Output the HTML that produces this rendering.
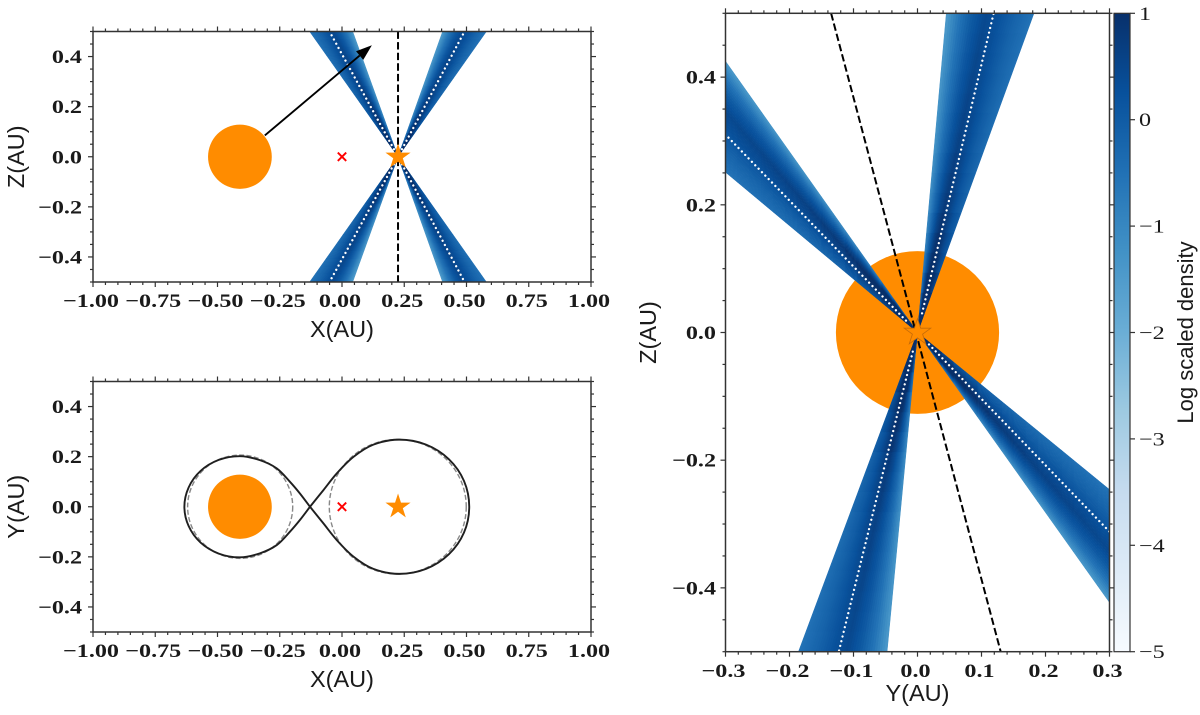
<!DOCTYPE html>
<html lang="en">
<head>
<meta charset="utf-8">
<title>Density cones around a binary orbit</title>
<style>
html,body{margin:0;padding:0;background:#fff;width:1200px;height:715px;overflow:hidden}
svg{display:block}
.tick-label{font-family:"Liberation Serif",serif;font-weight:bold;font-size:19px;fill:#1a1a1a}
.cbar-label{font-family:"Liberation Serif",serif;font-size:19px;fill:#1a1a1a}
.axis-title{font-family:"Liberation Sans",sans-serif;font-size:23.5px;fill:#1a1a1a}
</style>
</head>
<body>
<svg id="chart" xmlns="http://www.w3.org/2000/svg" width="1200" height="715" viewBox="0 0 1200 715">
  <defs>
    <clipPath id="clip-a"><rect x="93" y="31.5" width="498" height="250.5"/></clipPath>
    <clipPath id="clip-b"><rect x="93" y="381.5" width="498" height="250.5"/></clipPath>
    <clipPath id="clip-c"><rect x="725.5" y="13.3" width="384" height="638.4"/></clipPath>
    <linearGradient id="cbar-gradient" x1="0" y1="1" x2="0" y2="0"></linearGradient>
  </defs>
</svg>
<script>
// Colour ramp (Blues) and colour scale limits
const rampColors = ['#f7fbff','#deebf7','#c6dbef','#9ecae1','#6baed6','#4292c6','#2171b5','#08519c','#08306b'];
const colorbarTicks = [-5,-4,-3,-2,-1,0,1];
const colorbarMin = -5;
const colorbarMax = 1;

// Log density across a cone (0 = outer edge, 1 = light edge)
const profileU = [0,0.2,0.4,0.55,0.7,0.85,1];
const profileV = [-0.55,-0.2,0.25,0.45,0.05,-0.6,-1.45];
// Log density gain along a cone (0 = apex, 1 = plot edge)
const falloffS = [0,0.1,0.2,0.4,0.6,1];
const falloffV = [2.2,1.3,0.75,0.35,0.17,0];

// Panel A (X-Z) cones: edge positions on the plot border
const starX = 0.225;
const bodyX = -0.41;
const bodyRadius = 0.128;
const fanAZ = [0.5,0.5,-0.5,-0.5];
const fanAOuterX = [-0.13,0.58,-0.13,0.58];
const fanADottedX = [-0.05,0.492,-0.05,0.492];
const fanALightX = [0.043,0.404,0.043,0.404];
const arrowStart = [-0.31,0.085];
const arrowTip = [0.12,0.445];

// Panel B (X-Y) outline: upper half of each lobe
const leftLobeX = [-0.1285,-0.169,-0.209,-0.262,-0.33,-0.41,-0.495,-0.568,-0.616,-0.633];
const leftLobeY = [0,0.053,0.0996,0.153,0.186,0.202,0.187,0.143,0.077,0];
const rightLobeX = [-0.1285,-0.075,-0.021,0.046,0.126,0.23,0.3375,0.429,0.49,0.511];
const rightLobeY = [0,0.066,0.133,0.199,0.248,0.268,0.248,0.19,0.103,0];
const leftCircle = [-0.409,0.211];
const rightCircle = [0.224,0.275];

// Panel C (Y-Z) cones: edge positions on the plot border
const fanCOuter = [[-0.3,0.251],[0.182,0.5],[0.3,-0.246],[-0.186,-0.5]];
const fanCDotted = [[-0.3,0.31],[0.119,0.5],[0.3,-0.312],[-0.123,-0.5]];
const fanCLight = [[-0.3,0.425],[0.045,0.5],[0.3,-0.423],[-0.0475,-0.5]];
const obsLineC = [[-0.135,0.5],[0.13,-0.5]];
const bodyRadiusC = 0.1275;

// Axis ticks
const xTicksAB = [-1,-0.75,-0.5,-0.25,0,0.25,0.5,0.75,1];
const xTickLabelsAB = ['−1.00','−0.75','−0.50','−0.25','0.00','0.25','0.50','0.75','1.00'];
const yTicksAB = [-0.4,-0.2,0,0.2,0.4];
const yTickLabelsAB = ['−0.4','−0.2','0.0','0.2','0.4'];
const xTicksC = [-0.3,-0.2,-0.1,0,0.1,0.2,0.3];
const xTickLabelsC = ['−0.3','−0.2','−0.1','0.0','0.1','0.2','0.3'];
const yTicksC = [-0.4,-0.2,0,0.2,0.4];
const yTickLabelsC = ['−0.4','−0.2','0.0','0.2','0.4'];

const NS = 'http://www.w3.org/2000/svg';
const svg = document.getElementById('chart');
const ORANGE = '#ff8c00';
const STRIPS_U = 36, STRIPS_S = 16, TEXT_STRETCH = 1.27;

function scale(d0,d1,p0,p1){ return v => p0 + (v-d0)/(d1-d0)*(p1-p0); }
function make(tag,attrs,parent){
  const el = document.createElementNS(NS,tag);
  for(const k in attrs) el.setAttribute(k,attrs[k]);
  parent.appendChild(el);
  return el;
}
function interp(xs,ys,x){
  if(x<=xs[0]) return ys[0];
  for(let i=1;i<xs.length;i++){
    if(x<=xs[i]) return ys[i-1]+(x-xs[i-1])/(xs[i]-xs[i-1])*(ys[i]-ys[i-1]);
  }
  return ys[ys.length-1];
}
function hexRgb(h){ return [1,3,5].map(i=>parseInt(h.substr(i,2),16)); }
function colorFor(v){
  let t=(v-colorbarMin)/(colorbarMax-colorbarMin);
  t=Math.max(0,Math.min(1,t))*(rampColors.length-1);
  const i=Math.min(Math.floor(t),rampColors.length-2), f=t-i;
  const a=hexRgb(rampColors[i]), b=hexRgb(rampColors[i+1]);
  return 'rgb('+a.map((c,k)=>Math.round(c+(b[k]-c)*f)).join(',')+')';
}
function starPoints(cx,cy,R){
  const pts=[];
  for(let i=0;i<10;i++){
    const r=i%2?R*0.382:R, a=-Math.PI/2+i*Math.PI/5;
    pts.push((cx+r*Math.cos(a)).toFixed(2)+','+(cy+r*Math.sin(a)).toFixed(2));
  }
  return pts.join(' ');
}
function stretchedText(parent,x,y,str,anchor,cls){
  const t=make('text',{transform:'translate('+x+','+y+') scale('+TEXT_STRETCH+',1)','text-anchor':anchor,'class':cls},parent);
  t.textContent=str;
  return t;
}
function drawCone(parent,px,py,apex,outer,dotted,light){
  const g=make('g',{},parent);
  
  
  const pt=(u,s)=>{
    const ex=outer[0]+(light[0]-outer[0])*u, ey=outer[1]+(light[1]-outer[1])*u;
    return [px(apex[0]+(ex-apex[0])*s), py(apex[1]+(ey-apex[1])*s)];
  };
  for(let i=0;i<STRIPS_U;i++){
    for(let j=0;j<STRIPS_S;j++){
      const u0=i/STRIPS_U,u1=(i+1)/STRIPS_U,s0=j/STRIPS_S,s1=(j+1)/STRIPS_S;
      const v=interp(profileU,profileV,(u0+u1)/2)+interp(falloffS,falloffV,(s0+s1)/2);
      const c=colorFor(v);
      const pts=[pt(u0,s0),pt(u1,s0),pt(u1,s1),pt(u0,s1)].map(p=>p[0].toFixed(2)+','+p[1].toFixed(2)).join(' ');
      const cell=make('polygon',{points:pts,fill:c,stroke:c,'stroke-width':0.5},g);
      
      
    }
  }
  const dot=make('line',{
    x1:px(apex[0]+(dotted[0]-apex[0])*0.06),y1:py(apex[1]+(dotted[1]-apex[1])*0.06),
    x2:px(dotted[0]),y2:py(dotted[1]),
    stroke:'#fff','stroke-width':2.3,'stroke-linecap':'round','stroke-dasharray':'0.01 4.8'},g);
  
  
}
function drawStar(parent,cx,cy,R,outline){
  const s=make('polygon',{points:starPoints(cx,cy,R),fill:ORANGE},parent);
  if(outline){ s.setAttribute('stroke','#c56b08'); s.setAttribute('stroke-width','0.8'); }
  
  
}
function drawCross(parent,cx,cy){
  const g=make('g',{stroke:'#ff0000','stroke-width':1.9},parent);
  
  
  make('line',{x1:cx-4.2,y1:cy-4.2,x2:cx+4.2,y2:cy+4.2},g);
  make('line',{x1:cx-4.2,y1:cy+4.2,x2:cx+4.2,y2:cy-4.2},g);
}
function minorValues(lo,hi,step){
  const out=[], n=Math.round((hi-lo)/step);
  for(let i=0;i<=n;i++) out.push(lo+i*step);
  return out;
}
function drawAxes(o){
  const g=make('g',{stroke:'#333','stroke-width':1.2,fill:'none'},svg);
  
  
  const L=o.left,R=o.right,T=o.top,B=o.bottom;
  const tick=(x1,y1,x2,y2)=>make('line',{x1:x1,y1:y1,x2:x2,y2:y2},g);
  const isMajor=(v,list)=>list.some(m=>Math.abs(m-v)<1e-6);
  minorValues(o.xLo,o.xHi,o.xMinor).forEach(v=>{
    const x=o.px(v), len=isMajor(v,o.xMajor)?5:3;
    tick(x,B,x,B+len); tick(x,T,x,T-len);
  });
  minorValues(o.yLo,o.yHi,o.yMinor).forEach(v=>{
    const y=o.py(v), len=isMajor(v,o.yMajorAll)?5:3;
    tick(L,y,L-len,y); tick(R,y,R+len,y);
  });
  const frame=make('rect',{x:L,y:T,width:R-L,height:B-T,'stroke-width':1.5},g);
  
  
  o.xMajor.forEach((v,i)=>{
    const t=stretchedText(svg,o.px(v)-2,o.xLabelY,o.xLabels[i],'middle','tick-label');
    
    
  });
  o.yMajor.forEach((v,i)=>{
    const t=stretchedText(svg,o.yLabelX,o.py(v)+6.5,o.yLabels[i],'end','tick-label');
    
    
  });
  const xt=make('text',{x:(L+R)/2,y:o.xTitleY,'text-anchor':'middle','class':'axis-title'},svg);
  xt.textContent=o.xTitle;
  
  
  const cy=(T+B)/2;
  const yt=make('text',{transform:'translate('+o.yTitleX+','+cy+') rotate(-90)','text-anchor':'middle','class':'axis-title'},svg);
  yt.textContent=o.yTitle;
  
  
}
function smoothPath(pts){
  let d='M'+pts[0][0].toFixed(2)+' '+pts[0][1].toFixed(2);
  for(let i=0;i<pts.length-1;i++){
    const p0=pts[Math.max(i-1,0)],p1=pts[i],p2=pts[i+1],p3=pts[Math.min(i+2,pts.length-1)];
    const c1=[p1[0]+(p2[0]-p0[0])/6,p1[1]+(p2[1]-p0[1])/6];
    const c2=[p2[0]-(p3[0]-p1[0])/6,p2[1]-(p3[1]-p1[1])/6];
    d+=' C'+c1[0].toFixed(2)+' '+c1[1].toFixed(2)+' '+c2[0].toFixed(2)+' '+c2[1].toFixed(2)+' '+p2[0].toFixed(2)+' '+p2[1].toFixed(2);
  }
  return d;
}

/* ---------- shared X scale for panels A, B ---------- */
const pxAB = scale(-1,1,93,591);

/* ---------- Panel A ---------- */
const pyA = scale(-0.5,0.5,282,31.5);
const panelA = make('g',{'clip-path':'url(#clip-a)'},svg);


const bodyA=make('ellipse',{cx:pxAB(bodyX),cy:pyA(0),rx:bodyRadius*249,ry:bodyRadius*251,fill:ORANGE},panelA);


fanAZ.forEach((z,i)=>{
  drawCone(panelA,pxAB,pyA,[starX,0],[fanAOuterX[i],z],[fanADottedX[i],z],[fanALightX[i],z]);
});
const axisLineA=make('line',{x1:pxAB(starX),y1:pyA(0.5),x2:pxAB(starX),y2:pyA(-0.5),stroke:'#000','stroke-width':2,'stroke-dasharray':'7.4 3.2'},panelA);


drawCross(panelA,pxAB(0),pyA(0));
drawStar(panelA,pxAB(starX),pyA(0),13.2,false);
(function(){
  const x0=pxAB(arrowStart[0]),y0=pyA(arrowStart[1]),x1=pxAB(arrowTip[0]),y1=pyA(arrowTip[1]);
  const len=Math.hypot(x1-x0,y1-y0),ux=(x1-x0)/len,uy=(y1-y0)/len;
  const bx=x1-ux*16,by=y1-uy*16;
  const g=make('g',{},panelA);
  
  
  make('line',{x1:x0,y1:y0,x2:bx,y2:by,stroke:'#000','stroke-width':1.9},g);
  make('polygon',{points:[x1+','+y1,(bx-uy*5.6)+','+(by+ux*5.6),(bx+uy*5.6)+','+(by-ux*5.6)].join(' '),fill:'#000'},g);
})();
drawAxes({name:'xz-panel',left:93,right:591,top:31.5,bottom:282,px:pxAB,py:pyA,
  xLo:-1,xHi:1,xMinor:0.05,xMajor:xTicksAB,xLabels:xTickLabelsAB,xLabelY:307,
  yLo:-0.5,yHi:0.5,yMinor:0.05,yMajor:yTicksAB,yMajorAll:yTicksAB,yLabels:yTickLabelsAB,yLabelX:82,
  xTitle:'X(AU)',xTitleY:337,yTitle:'Z(AU)',yTitleX:24});

/* ---------- Panel B ---------- */
const pyB = scale(-0.5,0.5,632,381.5);
const panelB = make('g',{'clip-path':'url(#clip-b)'},svg);


[leftCircle,rightCircle].forEach(c=>{
  const e=make('ellipse',{cx:pxAB(c[0]),cy:pyB(0),rx:c[1]*249,ry:c[1]*251*0.975,fill:'none',stroke:'#888','stroke-width':1.4,'stroke-dasharray':'5 2.4'},panelB);
  
  
});
const bodyB=make('ellipse',{cx:pxAB(bodyX),cy:pyB(0),rx:bodyRadius*249,ry:bodyRadius*251,fill:ORANGE},panelB);


[[leftLobeX,leftLobeY],[rightLobeX,rightLobeY]].forEach(l=>{
  const pts=[];
  l[0].forEach((x,i)=>pts.push([pxAB(x),pyB(l[1][i])]));
  for(let i=l[0].length-2;i>=0;i--) pts.push([pxAB(l[0][i]),pyB(-l[1][i])]);
  const p=make('path',{d:smoothPath(pts),fill:'none',stroke:'#1f1f1f','stroke-width':1.9},panelB);
  
  
});
drawCross(panelB,pxAB(0),pyB(0));
drawStar(panelB,pxAB(starX),pyB(0),13.2,false);
drawAxes({name:'xy-panel',left:93,right:591,top:381.5,bottom:632,px:pxAB,py:pyB,
  xLo:-1,xHi:1,xMinor:0.05,xMajor:xTicksAB,xLabels:xTickLabelsAB,xLabelY:657,
  yLo:-0.5,yHi:0.5,yMinor:0.05,yMajor:yTicksAB,yMajorAll:yTicksAB,yLabels:yTickLabelsAB,yLabelX:82,
  xTitle:'X(AU)',xTitleY:687,yTitle:'Y(AU)',yTitleX:24});

/* ---------- Panel C ---------- */
const pxC = scale(-0.3,0.3,725.5,1109.5);
const pyC = scale(-0.5,0.5,651.7,13.3);
const panelC = make('g',{'clip-path':'url(#clip-c)'},svg);


const bodyC=make('ellipse',{cx:pxC(0),cy:pyC(0),rx:bodyRadiusC*640,ry:bodyRadiusC*638.4,fill:ORANGE},panelC);


fanCOuter.forEach((o,i)=>{
  drawCone(panelC,pxC,pyC,[0,0],o,fanCDotted[i],fanCLight[i]);
});
const axisLineC=make('line',{x1:pxC(obsLineC[0][0]),y1:pyC(obsLineC[0][1]),x2:pxC(obsLineC[1][0]),y2:pyC(obsLineC[1][1]),stroke:'#000','stroke-width':2,'stroke-dasharray':'7.4 3.2'},panelC);


drawStar(panelC,pxC(0),pyC(0),14,true);
drawAxes({name:'yz-panel',left:725.5,right:1109.5,top:13.3,bottom:651.7,px:pxC,py:pyC,
  xLo:-0.3,xHi:0.3,xMinor:0.02,xMajor:xTicksC,xLabels:xTickLabelsC,xLabelY:677,
  yLo:-0.5,yHi:0.5,yMinor:0.05,yMajor:yTicksC,yMajorAll:yTicksC,yLabels:yTickLabelsC,yLabelX:716,
  xTitle:'Y(AU)',xTitleY:701,yTitle:'Z(AU)',yTitleX:656});

/* ---------- Colorbar ---------- */
const grad=document.getElementById('cbar-gradient');
rampColors.forEach((c,i)=>{
  make('stop',{offset:(i/(rampColors.length-1)),'stop-color':c},grad);
});
const pyBar = scale(colorbarMin,colorbarMax,651.7,13.3);
const cbar=make('g',{},svg);


const cbarRect=make('rect',{x:1114,y:13.3,width:16,height:638.4,fill:'url(#cbar-gradient)',stroke:'#333','stroke-width':1.2},cbar);


colorbarTicks.forEach(v=>{
  const y=pyBar(v);
  const tk=make('line',{x1:1130,y1:y,x2:1135,y2:y,stroke:'#333','stroke-width':1.2},cbar);
  
  
  const lab=stretchedText(cbar,1139,y+6.5,(v<0?'−':'')+Math.abs(v),'start','cbar-label');
  
  
});
const cbarTitle=make('text',{transform:'translate(1193,332.5) rotate(-90)','text-anchor':'middle','class':'axis-title'},cbar);
cbarTitle.style.fontSize='22px';
cbarTitle.textContent='Log scaled density';


</script>
</body>
</html>
